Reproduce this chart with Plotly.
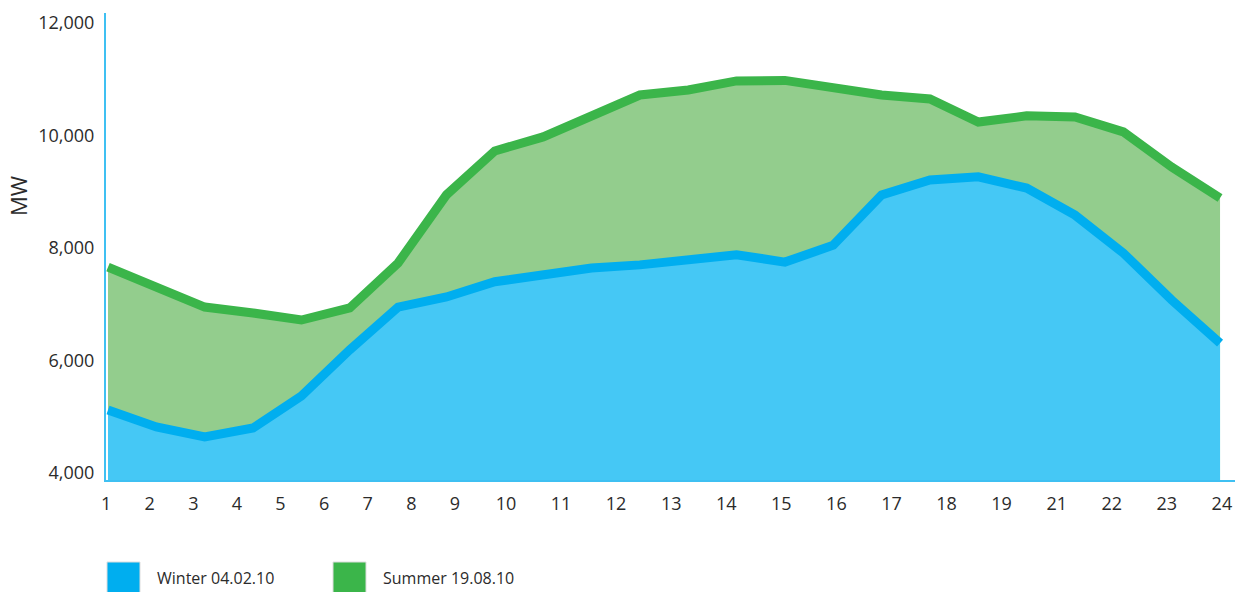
import plotly.graph_objects as go

hours = list(range(24))

winter = [5120, 4820, 4640, 4800, 5370, 6190, 6950, 7130, 7400, 7520, 7645, 7700,
          7790, 7880, 7750, 8050, 8945, 9210, 9265, 9065, 8585, 7910, 7075, 6310]
summer = [7660, 7290, 6950, 6845, 6720, 6935, 7735, 8945, 9725, 9975, 10365, 10720,
          10810, 10970, 10980, 10845, 10720, 10650, 10240, 10350, 10330, 10065, 9440, 8890]

tick_labels = ["1", "2", "3", "4", "5", "6", "7", "8", "9", "10", "11", "12", "13",
               "14", "15", "16", "17", "18", "19", "21", "22", "23", "24"]

y_ticks = [4000, 6000, 8000, 10000, 12000]

# the hour labels are spaced like running text, not like the data points
tick_pos = [-0.04]
for a, b in zip(tick_labels[:-1], tick_labels[1:]):
    n = len(a) + len(b)
    tick_pos.append(tick_pos[-1] + {2: 0.902, 3: 1.055, 4: 1.139}[n])

BLUE_LINE = "#00AEEF"
BLUE_FILL = "#45C8F5"
GREEN_LINE = "#3BB54A"
GREEN_FILL = "#93CD8D"
AXIS = "#3FC0F2"
TEXT = "#2b2b2b"
FONT = "Open Sans"

W, H = 1235, 592
# plot area in pixels, used to place the legend and the axis title
L, R, T, B = 106, 1235, 13, 480


def px(x):
    return (x - L) / (R - L)


def py(y):
    return (B - y) / (B - T)


fig = go.Figure()

fig.add_trace(go.Scatter(
    x=hours, y=summer, mode="lines", fill="tozeroy",
    fillcolor=GREEN_FILL, line=dict(color=GREEN_LINE, width=9),
    name="Summer 19.08.10", showlegend=False,
))
fig.add_trace(go.Scatter(
    x=hours, y=winter, mode="lines", fill="tozeroy",
    fillcolor=BLUE_FILL, line=dict(color=BLUE_LINE, width=9),
    name="Winter 04.02.10", showlegend=False,
))

fig.update_xaxes(
    range=[(L - 108) / 48.35, (R - 108) / 48.35],
    tickvals=tick_pos, ticktext=tick_labels,
    ticks="outside", ticklen=6, tickcolor="rgba(0,0,0,0)",
    showline=True, linecolor=AXIS, linewidth=2,
    showgrid=False, zeroline=False,
    tickfont=dict(family=FONT, size=18, color=TEXT),
)
fig.update_yaxes(
    range=[3876, 12178],
    tickvals=y_ticks, tickformat=",d",
    ticks="outside", ticklen=6, tickcolor="rgba(0,0,0,0)",
    showline=True, linecolor=AXIS, linewidth=2,
    showgrid=False, zeroline=False,
    tickfont=dict(family=FONT, size=18, color=TEXT),
)

fig.add_annotation(
    text="MW", textangle=-90, xref="paper", yref="paper",
    x=px(18), y=py(196), xanchor="center", yanchor="middle", showarrow=False,
    font=dict(family=FONT, size=22, color=TEXT),
)

legend = [("Winter 04.02.10", BLUE_LINE, 107), ("Summer 19.08.10", GREEN_LINE, 333)]
for name, color, x0 in legend:
    fig.add_shape(
        type="rect", xref="paper", yref="paper",
        x0=px(x0), x1=px(x0 + 33), y0=py(562), y1=py(600),
        fillcolor=color, line=dict(color="#dddddd", width=1),
    )
    fig.add_annotation(
        text=name, xref="paper", yref="paper", x=px(x0 + 48), y=py(578),
        xanchor="left", yanchor="middle", showarrow=False,
        font=dict(family=FONT, size=16, color=TEXT),
    )

fig.update_layout(
    width=W, height=H,
    margin=dict(l=L, r=W - R, t=T, b=H - B),
    plot_bgcolor="white", paper_bgcolor="white",
)

# drop the default page margin so the figure fills the window exactly
fig.write_html(
    "out.html",
    config={"displayModeBar": False},
    post_script="document.body.style.margin='0'; document.body.style.overflow='hidden';",
)
